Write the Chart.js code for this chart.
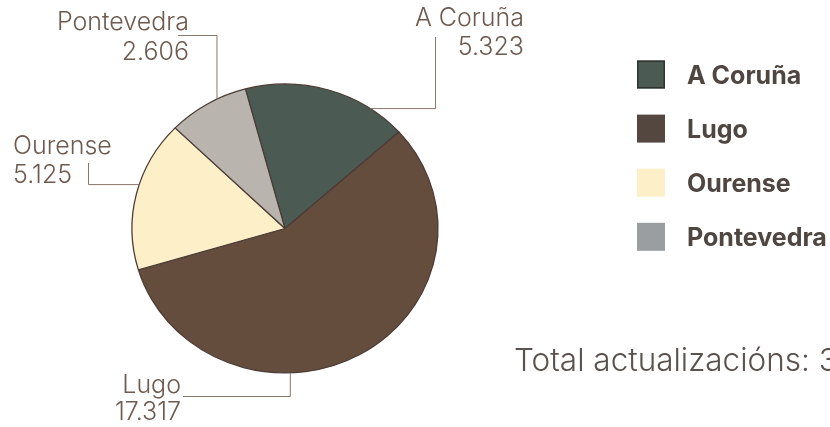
<!DOCTYPE html>
<html><head><meta charset="utf-8">
<script src="https://cdn.jsdelivr.net/npm/chart.js@4.4.1/dist/chart.umd.min.js"></script>
<style>html,body{margin:0;padding:0;background:#fff;}canvas{display:block;}</style>
</head><body>
<canvas id="c" width="830" height="427"></canvas>
<script>
// ---- data ----
const categories = ['A Coruña', 'Lugo', 'Ourense', 'Pontevedra'];
const values = [5323, 17317, 5125, 2606];
const sliceColors = ['#4b5a52', '#654d3e', '#fdefc8', '#b9b5ae'];
const legendColors = ['#4b5a52', '#544740', '#fdefc8', '#9a9ea1'];
const totalPrefix = 'Total actualizacións: ';

// ---- layout / style ----
const FONT = 'Inter, Lato, sans-serif';
const style = {
  labelColor: '#6e5a4e', leaderColor: '#8a776c', legendText: '#4f4541',
  totalColor: '#5a524e', border: '#4b3c36', stretchX: 1.059
};
const labelLayout = [
  {angle: 33.9, path: [['h', 435.5], ['v', 37]], align: 'right', x: 524, y1: 26, y2: 55},
  {angle: 178, path: [['v', 396.5], ['h', 183]], align: 'right', x: 181, y1: 392.5, y2: 420},
  {angle: 287.7, path: [['h', 88.5], ['v', 163]], align: 'left', x: 13, y1: 154, y2: 183},
  {angle: 333.6, path: [['v', 35.5], ['h', 178]], align: 'right', x: 189, y1: 30, y2: 59.5}
];
const legendLayout = {x: 637, top: 60.5, step: 54.1, box: 28, textX: 687, font: 'bold 25px ' + FONT};

function fmt(n) { return String(n).replace(/\B(?=(\d{3})+(?!\d))/g, '.'); }

const stretchPlugin = {
  id: 'stretch',
  beforeDatasetsDraw(chart) {
    const arc = chart.getDatasetMeta(0).data[0];
    const ctx = chart.ctx;
    ctx.save();
    ctx.translate(arc.x, arc.y);
    ctx.scale(style.stretchX, 1);
    ctx.translate(-arc.x, -arc.y);
  },
  afterDatasetsDraw(chart) { chart.ctx.restore(); }
};

const annotPlugin = {
  id: 'annot',
  afterDraw(chart) {
    const ctx = chart.ctx;
    const meta = chart.getDatasetMeta(0);
    const arc = meta.data[0];
    const cx = arc.x, cy = arc.y, r = arc.outerRadius;
    ctx.save();
    labelLayout.forEach((L, i) => {
      const a = L.angle * Math.PI / 180;
      let px = cx + Math.sin(a) * r * style.stretchX;
      let py = cy - Math.cos(a) * r;
      ctx.beginPath();
      ctx.strokeStyle = style.leaderColor;
      ctx.lineWidth = 1;
      ctx.moveTo(px, py);
      L.path.forEach(([d, v]) => {
        if (d === 'h') px = v; else py = v;
        ctx.lineTo(px, py);
      });
      ctx.stroke();
      ctx.fillStyle = style.labelColor;
      ctx.font = '300 25px ' + FONT;
      ctx.textAlign = L.align;
      ctx.textBaseline = 'alphabetic';
      ctx.fillText(categories[i], L.x, L.y1);
      ctx.fillText(fmt(values[i]), L.x, L.y2);
    });
    const G = legendLayout;
    categories.forEach((c, i) => {
      const y = G.top + i * G.step;
      ctx.fillStyle = legendColors[i];
      ctx.fillRect(G.x, y, G.box, G.box);
      if (i === 0) {
        ctx.strokeStyle = '#2e3431';
        ctx.lineWidth = 1.5;
        ctx.strokeRect(G.x + 0.75, y + 0.75, G.box - 1.5, G.box - 1.5);
      }
      ctx.fillStyle = style.legendText;
      ctx.font = G.font;
      ctx.textAlign = 'left';
      ctx.fillText(c, G.textX, y + 23.5);
    });
    const total = values.reduce((s, v) => s + v, 0);
    ctx.fillStyle = style.totalColor;
    ctx.font = '300 31.5px ' + FONT;
    ctx.textAlign = 'left';
    ctx.fillText(totalPrefix + fmt(total), 514, 371);
    ctx.restore();
  }
};

new Chart(document.getElementById('c'), {
  type: 'pie',
  data: {
    labels: categories,
    datasets: [{
      data: values,
      backgroundColor: sliceColors,
      borderColor: style.border,
      borderWidth: 1.2,
      radius: 144.5
    }]
  },
  options: {
    responsive: false,
    animation: false,
    events: [],
    rotation: -15,
    layout: {padding: {left: 0, right: 260, top: 30, bottom: 0}},
    plugins: {legend: {display: false}, tooltip: {enabled: false}, title: {display: false}}
  },
  plugins: [stretchPlugin, annotPlugin]
});
</script>
</body></html>
